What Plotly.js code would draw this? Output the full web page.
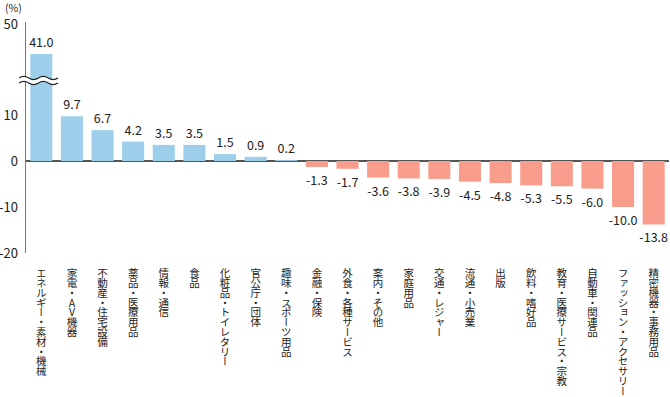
<!DOCTYPE html>
<html>
<head>
<meta charset="utf-8">
<script src="https://cdn.plot.ly/plotly-3.0.1.min.js"></script>
<style>
html,body{margin:0;padding:0;background:#fff;}
#chart{width:670px;height:397px;}
</style>
</head>
<body>
<div id="chart"></div>
<script>
const categories = [
  "エネルギー・素材・機械","家電・AV機器","不動産・住宅設備","薬品・医療用品","情報・通信","食品",
  "化粧品・トイレタリー","官公庁・団体","趣味・スポーツ用品","金融・保険","外食・各種サービス",
  "案内・その他","家庭用品","交通・レジャー","流通・小売業","出版","飲料・嗜好品",
  "教育・医療サービス・宗教","自動車・関連品","ファッション・アクセサリー","精密機器・事務用品"
];
const values = [41.0, 9.7, 6.7, 4.2, 3.5, 3.5, 1.5, 0.9, 0.2, -1.3, -1.7, -3.6, -3.8, -3.9, -4.5, -4.8, -5.3, -5.5, -6.0, -10.0, -13.8];
const lowTickVals = [-20, -10, 0, 10];
const lowTickText = ["-20", "-10", "0", "10"];
const highTickVals = [50];
const highTickText = ["50"];
const breakAt = 17.6;

const posColor = '#9dcfea';
const negColor = '#f89d8c';
const fontFam = '"Noto Sans CJK JP", "Noto Sans", sans-serif';

const lowTrace = {
  type: 'bar', x: categories, y: values,
  xaxis: 'x', yaxis: 'y',
  marker: {color: values.map(v => v >= 0 ? posColor : negColor)},
  text: values.map(v => v > breakAt ? '' : v.toFixed(1)),
  textposition: 'outside', cliponaxis: false, constraintext: 'none',
  textfont: {family: fontFam, size: 12.5, color: '#222'},
  hoverinfo: 'skip'
};
const highIdx = values.map((v, i) => v > breakAt ? i : -1).filter(i => i >= 0);
const highTrace = {
  type: 'bar', x: highIdx.map(i => categories[i]), y: highIdx.map(i => values[i]),
  xaxis: 'x', yaxis: 'y2',
  marker: {color: posColor},
  text: highIdx.map(i => values[i].toFixed(1)),
  textposition: 'outside', cliponaxis: false, constraintext: 'none',
  textfont: {family: fontFam, size: 12.5, color: '#222'},
  hoverinfo: 'skip'
};

// plot area in px: left 26, right 669, top 22, bottom 253
const L = 26, W = 643, T = 22, H = 231, B = 253;
const px = x => (x - L) / W;
const py = y => (B - y) / H;
const lowTop = (B - 80) / H;

function waveSeg(yc, amp, x0, x1, n, rev) {
  const step = (x1 - x0) / n;
  let d = '';
  if (!rev) {
    for (let k = 0; k < n; k++) {
      const xa = x0 + step * k, xb = xa + step;
      const s = (k % 2 === 0) ? -amp : amp;
      d += ' C' + px(xa + step * 0.35) + ',' + py(yc + s) + ' ' + px(xb - step * 0.35) + ',' + py(yc + s) + ' ' + px(xb) + ',' + py(yc);
    }
  } else {
    for (let k = n - 1; k >= 0; k--) {
      const xa = x0 + step * k, xb = xa + step;
      const s = (k % 2 === 0) ? -amp : amp;
      d += ' C' + px(xb - step * 0.35) + ',' + py(yc + s) + ' ' + px(xa + step * 0.35) + ',' + py(yc + s) + ' ' + px(xa) + ',' + py(yc);
    }
  }
  return d;
}
const WX0 = 19, WX1 = 58, WN = 4;
function wave(yc, amp) {
  return 'M' + px(WX0) + ',' + py(yc) + waveSeg(yc, amp, WX0, WX1, WN, false);
}
function waveFill(yTop, yBot, amp) {
  return 'M' + px(WX0) + ',' + py(yTop) + waveSeg(yTop, amp, WX0, WX1, WN, false) +
    ' L' + px(WX1) + ',' + py(yBot) + waveSeg(yBot, amp, WX0, WX1, WN, true) + ' Z';
}

const layout = {
  width: 670, height: 397,
  margin: {l: L, r: 670 - L - W, t: T, b: 397 - B},
  paper_bgcolor: '#fff', plot_bgcolor: '#fff',
  showlegend: false, barmode: 'overlay', bargap: 0.28,
  font: {family: fontFam, color: '#222'},
  xaxis: {
    anchor: 'y', showline: false, showgrid: false, zeroline: false,
    ticks: '', tickangle: 0, automargin: false,
    tickfont: {family: fontFam, size: 10.5, color: '#222'},
    fixedrange: true
  },
  yaxis: {
    domain: [0, lowTop], range: [-20, breakAt],
    tickvals: lowTickVals, ticktext: lowTickText,
    showline: true, linecolor: '#777', linewidth: 1.5,
    showgrid: false, zeroline: true, zerolinecolor: '#555', zerolinewidth: 1.2,
    ticks: '', ticklabelstandoff: 4, automargin: false,
    tickfont: {family: fontFam, size: 13, color: '#222'}
  },
  yaxis2: {
    domain: [lowTop, 1], range: [33.2, 50.6],
    tickvals: highTickVals, ticktext: highTickText,
    showline: true, linecolor: '#777', linewidth: 1.5,
    showgrid: false, zeroline: false,
    ticks: '', ticklabelstandoff: 4, automargin: false,
    tickfont: {family: fontFam, size: 13, color: '#222'}
  },
  annotations: [{
    text: '(%)', xref: 'paper', yref: 'paper', x: px(3), y: py(7),
    xanchor: 'left', yanchor: 'middle', showarrow: false,
    font: {family: fontFam, size: 10.5, color: '#222'}
  }],
  shapes: [
    {type: 'path', xref: 'paper', yref: 'paper', path: waveFill(78, 83, 2.2), fillcolor: '#fff', line: {width: 0}, layer: 'above'},
    {type: 'path', xref: 'paper', yref: 'paper', path: wave(78, 2.2), line: {color: '#222', width: 1.2}, layer: 'above'},
    {type: 'path', xref: 'paper', yref: 'paper', path: wave(83, 2.2), line: {color: '#222', width: 1.2}, layer: 'above'}
  ]
};

const LABEL_TOP = 268;   // top edge of the vertical category labels, px
const gd = document.getElementById('chart');
Plotly.newPlot(gd, [lowTrace, highTrace], layout, {staticPlot: true, displayModeBar: false}).then(() => {
  gd.querySelectorAll('.xtick text').forEach(t => {
    t.removeAttribute('dy');
    t.setAttribute('text-anchor', 'start');
    t.style.writingMode = 'vertical-rl';
    t.style.textOrientation = 'upright';
    t.style.letterSpacing = '-0.7px';
    t.setAttribute('y', String(LABEL_TOP));
  });
});
</script>
</body>
</html>
